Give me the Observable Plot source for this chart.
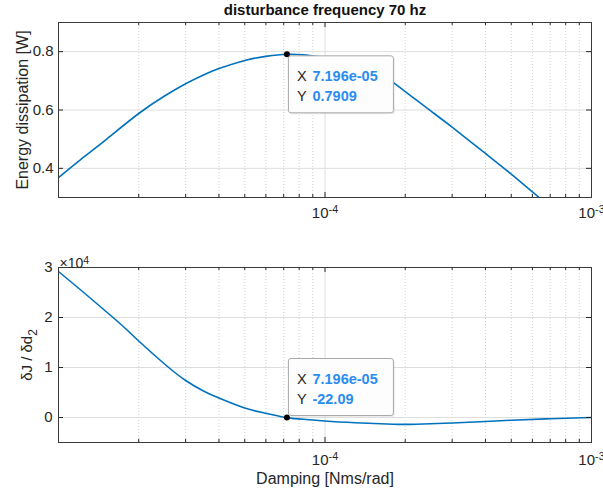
<!DOCTYPE html>
<html><head><meta charset="utf-8">
<script src="https://cdn.jsdelivr.net/npm/d3@7"></script>
<script src="https://cdn.jsdelivr.net/npm/@observablehq/plot@0.6"></script>
<style>
body{margin:0;background:#fff;}
#wrap{position:relative;width:603px;height:497px;overflow:hidden;}
#wrap svg{position:absolute;left:0;}
</style></head><body><div id="wrap"></div>
<script>
// ---- data ----
const damping = [1e-5, 1.25e-5, 1.5e-5, 2e-5, 2.5e-5, 3e-5, 3.5e-5, 4e-5, 5e-5, 6e-5, 7.196e-5, 8.5e-5, 1e-4, 1.2e-4, 1.5e-4, 1.8e-4, 2e-4, 2.5e-4, 3e-4, 4e-4, 5e-4, 6.3e-4, 7e-4];
const energy = [0.368, 0.44, 0.497, 0.588, 0.648, 0.69, 0.72, 0.742, 0.77, 0.784, 0.7909, 0.788, 0.779, 0.764, 0.737, 0.695, 0.663, 0.596, 0.541, 0.451, 0.38, 0.303, 0.27];
const gradDamping = [1e-5, 1.25e-5, 1.5e-5, 1.75e-5, 2e-5, 2.5e-5, 3e-5, 3.5e-5, 4e-5, 5e-5, 6e-5, 7.196e-5, 8.5e-5, 1e-4, 1.3e-4, 1.8e-4, 2.2e-4, 3e-4, 4e-4, 5e-4, 7e-4, 1e-3];
const gradient = [29200, 24900, 21300, 18200, 15300, 10700, 7400, 5300, 3900, 1900, 850, -22.09, -400, -700, -1050, -1350, -1350, -1100, -800, -550, -250, 0];
const tipDamping = 7.196e-5;
const tipEnergy = 0.7909;
const tipGradient = -22.09;
const xDomain = [1e-5, 1e-3];
const majorX = [1e-4, 1e-3];
const minorX = [2e-5, 3e-5, 4e-5, 5e-5, 6e-5, 7e-5, 8e-5, 9e-5, 2e-4, 3e-4, 4e-4, 5e-4, 6e-4, 7e-4, 8e-4, 9e-4];
const energyDomain = [0.3, 0.9];
const energyTicks = [0.4, 0.6, 0.8];
const gradDomain = [-5000, 30000];
const gradTicks = [0, 10000, 20000, 30000];
const titleText = "disturbance frequency 70 hz";
const xLabelText = "Damping [Nms/rad]";
const yLabelTop = "Energy dissipation [W]";
const yLabelBottom = "δJ / δd";

const FONT = "'Liberation Sans', Arial, Helvetica, sans-serif";
const INK = "#262626";
const LINE = "#0072BD";
const BLUE = "#2b8cf0";
const GRID = "#dedede";
const MINOR = "#c6c6c6";
const W = 603, ML = 58, MR = 12;
const innerW = W - ML - MR;

function gridMarks(yTicks) {
  return [
    Plot.ruleX(minorX, {stroke: MINOR, strokeDasharray: "1,2", strokeWidth: 0.8}),
    Plot.ruleX(majorX, {stroke: GRID, strokeWidth: 1}),
    Plot.ruleY(yTicks, {stroke: GRID, strokeWidth: 1}),
  ];
}
function tickMarks(innerH, yTicks) {
  return [
    Plot.ruleX(majorX, {stroke: INK, insetTop: innerH - 5}),
    Plot.ruleX(majorX, {stroke: INK, insetBottom: innerH - 5}),
    Plot.ruleX(minorX, {stroke: INK, insetTop: innerH - 3}),
    Plot.ruleX(minorX, {stroke: INK, insetBottom: innerH - 3}),
    Plot.ruleY(yTicks, {stroke: INK, insetRight: innerW - 5}),
    Plot.ruleY(yTicks, {stroke: INK, insetLeft: innerW - 5}),
    Plot.frame({stroke: "#3a3a3a", strokeWidth: 1}),
  ];
}

// ---- top panel ----
const H1 = 240, MT1 = 22, MB1 = 43, innerH1 = H1 - MT1 - MB1;
const topPlot = Plot.plot({
  width: W, height: H1, marginLeft: ML, marginRight: MR, marginTop: MT1, marginBottom: MB1,
  style: {fontFamily: FONT, background: "white", overflow: "visible"},
  x: {type: "log", domain: xDomain, axis: null},
  y: {domain: energyDomain, axis: null},
  marks: [
    ...gridMarks(energyTicks),
    Plot.line(damping.map((d, i) => ({x: d, y: energy[i]})), {x: "x", y: "y", stroke: LINE, strokeWidth: 1.6, curve: "natural", clip: true}),
    ...tickMarks(innerH1, energyTicks),
    Plot.dot([{x: tipDamping, y: tipEnergy}], {x: "x", y: "y", r: 3, fill: "black"}),
    Plot.text(energyTicks, {y: d => d, frameAnchor: "left", dx: -5, textAnchor: "end", text: d => d.toFixed(1), fontSize: 15, fill: INK}),
    Plot.text(majorX, {x: d => d, frameAnchor: "bottom", dy: 20, textAnchor: "middle", text: () => "10", fontSize: 15, fill: INK}),
    Plot.text([yLabelTop], {frameAnchor: "left", dx: -36, rotate: -90, textAnchor: "middle", text: d => d, fontSize: 16, fill: INK}),
    Plot.text([titleText], {frameAnchor: "top", dy: -12.5, lineAnchor: "middle", textAnchor: "middle", text: d => d, fontSize: 15, fontWeight: "bold", fill: "#111"}),
  ]
});

// ---- bottom panel ----
const H2 = 257, MT2 = 27, MB2 = 55, innerH2 = H2 - MT2 - MB2;
const bottomPlot = Plot.plot({
  width: W, height: H2, marginLeft: ML, marginRight: MR, marginTop: MT2, marginBottom: MB2,
  style: {fontFamily: FONT, background: "white", overflow: "visible"},
  x: {type: "log", domain: xDomain, axis: null},
  y: {domain: gradDomain, axis: null},
  marks: [
    ...gridMarks(gradTicks),
    Plot.line(gradDamping.map((d, i) => ({x: d, y: gradient[i]})), {x: "x", y: "y", stroke: LINE, strokeWidth: 1.6, curve: "natural", clip: true}),
    ...tickMarks(innerH2, gradTicks),
    Plot.dot([{x: tipDamping, y: tipGradient}], {x: "x", y: "y", r: 3, fill: "black"}),
    Plot.text(gradTicks, {y: d => d, frameAnchor: "left", dx: -6, textAnchor: "end", text: d => String(d / 1e4), fontSize: 15, fill: INK}),
    Plot.text(["×10"], {frameAnchor: "top-left", dx: 1, dy: -9, textAnchor: "start", text: d => d, fontSize: 14, fill: INK}),
    Plot.text(majorX, {x: d => d, frameAnchor: "bottom", dy: 22, textAnchor: "middle", text: () => "10", fontSize: 15, fill: INK}),
    Plot.text([xLabelText], {frameAnchor: "bottom", dy: 41, textAnchor: "middle", text: d => d, fontSize: 16, fill: INK}),
    Plot.text([yLabelBottom], {frameAnchor: "left", dx: -31, rotate: -90, textAnchor: "middle", text: d => d, fontSize: 15, fill: INK}),
  ]
});

// superscripts / subscripts as real text
function decorate(svg) {
  let k = 0;
  d3.select(svg).selectAll("text").each(function() {
    const t = this.textContent;
    if (t === "10") {
      const e = Math.round(Math.log10(majorX[k++ % majorX.length]));
      d3.select(this).append("tspan").attr("dy", "-0.45em").attr("font-size", "0.72em").text(String(e));
    } else if (t === "×10") {
      d3.select(this).append("tspan").attr("dy", "-0.45em").attr("font-size", "0.75em").text("4");
    } else if (t === yLabelBottom) {
      d3.select(this).append("tspan").attr("dy", "0.35em").attr("font-size", "0.8em").text("2");
    }
  });
}
decorate(topPlot); decorate(bottomPlot);

function addTip(plot, xv, yv, label, above) {
  const cx = plot.scale("x").apply(xv), cy = plot.scale("y").apply(yv);
  const w = 105, h = 57;
  const x0 = cx + 2, y0 = above ? cy - 1.6 - h : cy + 2;
  const g = d3.select(plot).append("g").attr("font-family", FONT).attr("text-anchor", "start");
  g.append("rect").attr("x", x0 + 1.5).attr("y", y0 + 1.5).attr("width", w).attr("height", h).attr("rx", 2.5).attr("fill", "#000").attr("opacity", 0.07);
  g.append("rect").attr("x", x0).attr("y", y0).attr("width", w).attr("height", h).attr("rx", 2.5).attr("fill", "#fdfdfd").attr("stroke", "#a9a9a9");
  g.append("text").attr("x", x0 + 8.5).attr("y", y0 + 25).attr("font-size", 14.5).attr("fill", INK).text("X");
  g.append("text").attr("x", x0 + 24).attr("y", y0 + 25).attr("font-size", 14.5).attr("font-weight", "bold").attr("fill", BLUE).text(xv.toExponential(3).replace("e-5", "e-05"));
  g.append("text").attr("x", x0 + 8.5).attr("y", y0 + 45).attr("font-size", 14.5).attr("fill", INK).text("Y");
  g.append("text").attr("x", x0 + 24).attr("y", y0 + 45).attr("font-size", 14.5).attr("font-weight", "bold").attr("fill", BLUE).text(label);
}
addTip(topPlot, tipDamping, tipEnergy, String(tipEnergy), false);
addTip(bottomPlot, tipDamping, tipGradient, String(tipGradient), true);

topPlot.style.top = "0px";
bottomPlot.style.top = H1 + "px";
const wrap = document.getElementById("wrap");
wrap.appendChild(topPlot);
wrap.appendChild(bottomPlot);
</script>
</body></html>
